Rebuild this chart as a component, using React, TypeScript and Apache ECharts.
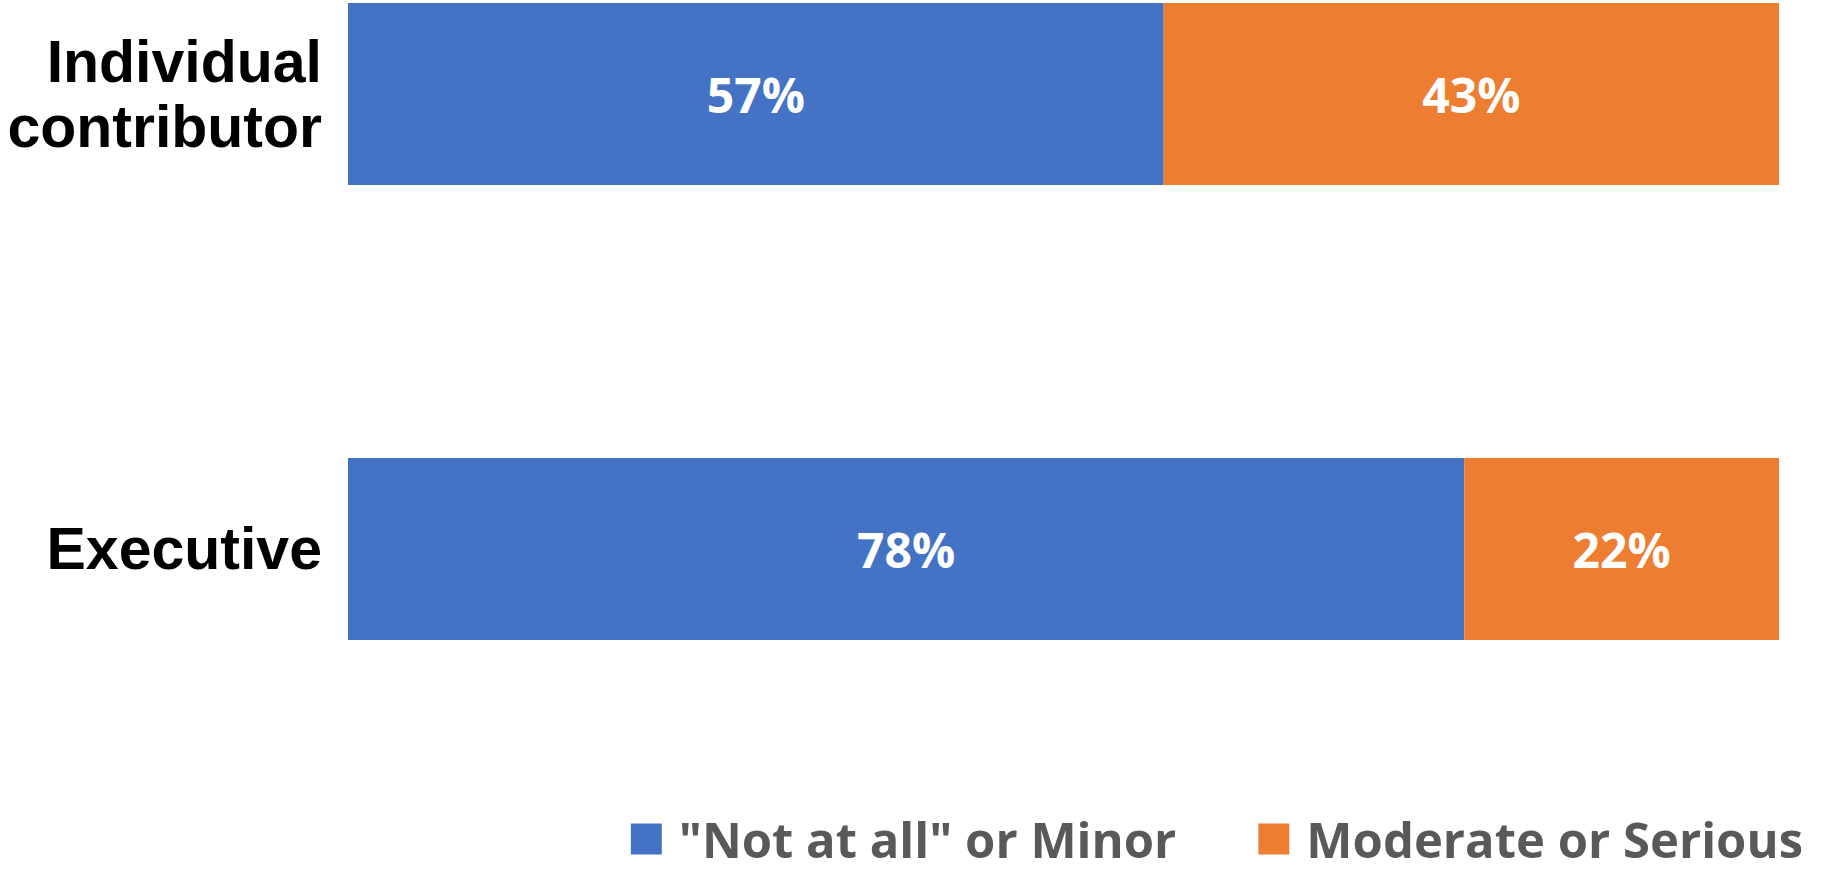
import React, { useEffect, useRef } from "react";
import * as echarts from "echarts";

const categories = ["Individual\ncontributor", "Executive"];
const notAtAllOrMinor = [57, 78];
const moderateOrSerious = [43, 22];
const seriesNames = ['"Not at all" or Minor', "Moderate or Serious"];
const colors = ["#4472C4", "#ED7D31"];

export default function App() {
  const ref = useRef<HTMLDivElement>(null);
  useEffect(() => {
    if (!ref.current) return;
    const chart = echarts.init(ref.current, null, { renderer: "svg" });
    const labelStyle = {
      show: true,
      position: "inside",
      formatter: "{c}%",
      color: "#ffffff",
      fontSize: 48,
      fontWeight: "bold",
      fontFamily: "Open Sans",
    };
    chart.setOption({
      animation: false,
      backgroundColor: "#ffffff",
      grid: { left: 348, right: 46, top: 94, bottom: 325, containLabel: false },
      xAxis: { type: "value", min: 0, max: 100, show: false },
      yAxis: {
        type: "category",
        data: categories,
        inverse: true,
        boundaryGap: false,
        axisLine: { show: false },
        axisTick: { show: false },
        splitLine: { show: false },
        axisLabel: {
          margin: 26,
          fontSize: 59,
          fontWeight: "bold",
          color: "#000000",
          fontFamily: "Liberation Sans",
          lineHeight: 65,
          align: "right",
        },
      },
      legend: {
        right: 22,
        top: 811,
        padding: 0,
        itemWidth: 31,
        itemHeight: 31,
        itemGap: 82,
        icon: "rect",
        textStyle: {
          fontSize: 49,
          fontWeight: "bold",
          color: "#595959",
          fontFamily: "Open Sans",
          lineHeight: 56,
          padding: [0, 0, 0, 12],
        },
        data: seriesNames,
      },
      series: [
        {
          name: seriesNames[0],
          type: "bar",
          stack: "total",
          barWidth: 182,
          clip: false,
          data: notAtAllOrMinor,
          itemStyle: { color: colors[0] },
          label: labelStyle,
        },
        {
          name: seriesNames[1],
          type: "bar",
          stack: "total",
          barWidth: 182,
          clip: false,
          data: moderateOrSerious,
          itemStyle: { color: colors[1] },
          label: labelStyle,
        },
      ],
    });
    return () => chart.dispose();
  }, []);
  return (
    <div
      ref={ref}
      style={{ position: "fixed", left: 0, top: 0, width: 1825, height: 874 }}
    />
  );
}
